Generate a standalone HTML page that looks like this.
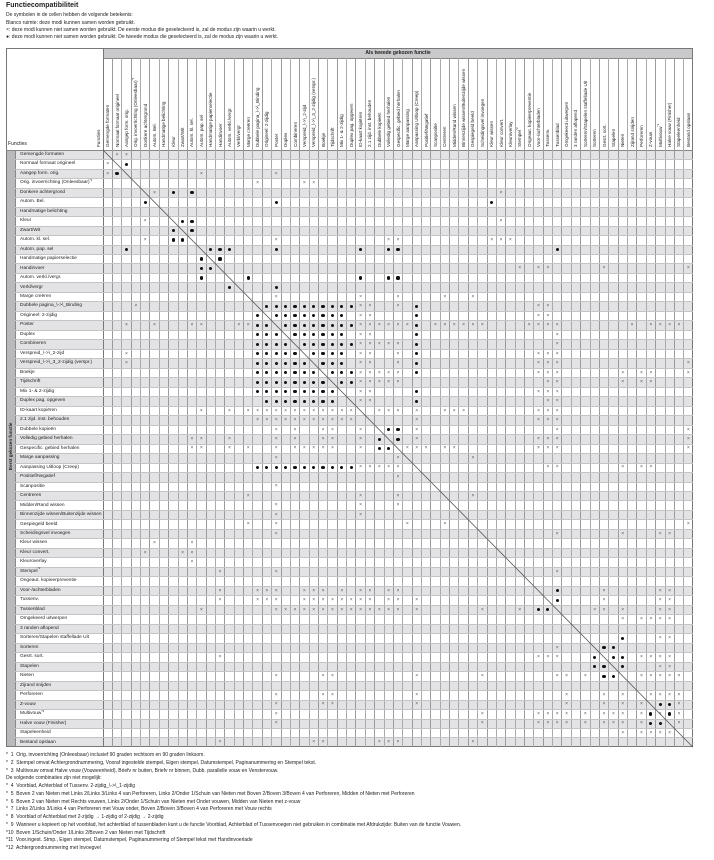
<!DOCTYPE html>
<html><head><meta charset="utf-8">
<style>
html,body{margin:0;padding:0;background:#fff;}
body{width:714px;height:860px;position:relative;overflow:hidden;font-family:"Liberation Sans",sans-serif;color:#222;}
.a{position:absolute;}
.t{position:absolute;font-size:5px;white-space:nowrap;line-height:6px;}
.vh{position:absolute;font-size:4.6px;white-space:nowrap;transform-origin:0 0;transform:rotate(-90deg);line-height:5px;}
.m{position:absolute;font-size:5px;line-height:6px;text-align:center;width:9px;}
sup{font-size:3px;line-height:0;vertical-align:top;position:relative;top:-0.5px;}
</style></head><body>
<div class="t" style="left:6px;top:2px;font-size:7px;font-weight:bold;line-height:8px;">Functiecompatibiliteit</div>
<div class="t" style="left:6px;top:12px;">De symbolen in de cellen hebben de volgende betekenis:</div>
<div class="t" style="left:6px;top:19.5px;">Blanco ruimte: deze modi kunnen samen worden gebruikt.</div>
<div class="t" style="left:6px;top:26.5px;">×: deze modi kunnen niet samen worden gebruikt. De eerste modus die geselecteerd is, zal de modus zijn waarin u werkt.</div>
<div class="t" style="left:6px;top:34px;">●: deze modi kunnen niet samen worden gebruikt. De tweede modus die geselecteerd is, zal de modus zijn waarin u werkt.</div>
<div id="tbl"></div>
<div id="fn"></div>
<script>
var T=document.getElementById('tbl');
var X0=103,CW=9.365,Y0=150,RH=9.48,NC=63,R=X0+NC*CW,B=Y0+NC*RH;
var names=["Gemengde formaten","Normaal formaat origineel","Aangep form. orig.","Orig. invoerrichting (Onleesbaar)*1","Donkere achtergrond","Autom. Bel.","Handmatige belichting","Kleur","Zwart/Wit","Autom. kl. sel.","Autom. pap. sel","Handmatige papierselectie","Handinvoer","Autom. verkl./vergr.","Verkl/vergr","Marge creëren","Dubbele pagina_\\->\\_Binding","Origineel: 2-zijdig","Poster","Duplex","Combineren","Verspreid_\\->\\_2-zijd","Verspreid_\\->\\_3_2-zijdig (verspr.)","Boekje","Tijdschrift","Mix 1- & 2-zijdig","Duplex pag. opgeven","ID-kaart kopiëren","2.1 zijd. inst. behouden","Dubbele kopieën","Volledig gebied herhalen","Gespecific. gebied herhalen","Marge aanpassing","Aanpassing Uitloop (Creep)","Positief/Negatief","Scanpositie","Centreren","Midden/Rand wissen","Binnenzijde wissen/Buitenzijde wissen","Gespiegeld beeld","Scheidingsvel invoegen","Kleur wissen","Kleur convert.","Kleuroverlay","Stempel*2","Ongeaut. kopieerpreventie","Voor-/achterbladen","Tussenv.","Tussenblad","Omgekeerd uitwerpen","3 randen aflopend","Sorteren/Stapelen staffellade Uit","Sorteren","Gesrt. sort.","Stapelen","Nieten","Zijrand snijden","Perforeren","Z-vouw","Multivouw*3","Halve vouw (Finisher)","Stapeleenheid","Bestand opslaan"];
function lab(s){var i=s.indexOf('*');return i<0?s:s.slice(0,i)+'<sup>'+s.slice(i)+'</sup>';}
var h='';
function box(l,t,w,hh,bg){h+='<div class="a" style="left:'+l+'px;top:'+t+'px;width:'+w+'px;height:'+hh+'px;background:'+bg+'"></div>';}
for(var r=0;r<NC;r++){var y=Y0+r*RH;box(15,y,R-15,RH,r%2==0?'#e3e3e5':'#fff');}
box(6,Y0,9,B-Y0,'#b9b9bb');
box(X0,48,R-X0,10,'#c9c9cb');
h+='<div class="t" style="left:'+X0+'px;width:'+(R-X0)+'px;text-align:center;top:50px;font-weight:bold;">Als tweede gekozen functie</div>';
h+='<div class="a" style="left:6px;top:48px;width:'+(R-6)+'px;height:'+(B-48)+'px;border:1px solid #777;box-sizing:border-box"></div>';
box(6,Y0-0.5,R-6,1,'#888');
box(X0,58,R-X0,0.8,'#888');
box(X0-0.5,48,1,B-48,'#777');
box(15,Y0,0.8,B-Y0,'#888');
for(var c=1;c<NC;c++){var x=X0+c*CW;box(x-0.4,58,0.8,B-58,c%2?'#9a9a9c':'#aaaaac');}
for(var r=1;r<NC;r++){var y=Y0+r*RH;box(15,y-0.3,R-15,0.6,'#c4c4c6');}
for(var c=0;c<NC;c++){var x=X0+c*CW+2.2;h+='<div class="vh" style="left:'+x+'px;top:147px;">'+lab(names[c])+'</div>';}
h+='<div class="vh" style="left:95.5px;top:147px;">Functies</div>';
h+='<div class="t" style="left:8px;top:141px;">Functies</div>';
h+='<div class="vh" style="left:7.5px;top:470px;font-weight:bold;">Eerst gekozen functie</div>';
for(var r=0;r<NC;r++){h+='<div class="t" style="left:20px;top:'+(Y0+r*RH+1.8)+'px;font-size:4.8px">'+lab(names[r])+'</div>';}
h+='<svg class="a" style="left:0;top:0" width="714" height="860"><line x1="'+X0+'" y1="'+Y0+'" x2="'+R+'" y2="'+B+'" stroke="#555" stroke-width="0.8"/></svg>';
var D={
0:"x1 x2",1:"x0 d2",2:"x0 d1 x10 x18",3:"x16 x21 x22",4:"x5 d7 d9 x42",5:"d4 d18 d41",7:"x4 d8 d9 x42",8:"d7 d9",9:"x4 d7 d8 x18 x30 x31 x41 x42 x43",
10:"d2 d11 d12 d13 d18 d27 d30 d31 d48",11:"d10 d12",12:"d10 d11 x44 x46 x47 x53 x62",13:"d10 d15 d27 d30 d31",14:"d13 d18",15:"x18 x27 x31 x36 x39",
16:"x3 d17 d18 d19 d20 d21 d22 d23 d24 d25 d26 x27 x28 x31 d33 x46 x47",
17:"d16 d18 d19 d20 d21 d22 d23 d24 d25 x27 x28 d33 x46 x47",
18:"x2 x5 x9 x10 x14 x15 d16 d17 d19 d20 d21 d22 d23 d24 d25 d26 x27 x28 x29 x30 x31 x32 d33 x35 x36 x37 x38 x39 x40 x45 x46 x47 x48 x56 x58 x59 x60 x61",
19:"d16 d17 d18 d20 d21 d22 d23 d24 d25 x27 x28 d33 x48",
20:"d16 d17 d18 d19 d21 d22 d23 d24 d25 d26 x27 x28 x29 x30 x31 d33 x48",
21:"x2 d16 d17 d18 d19 d20 d22 d23 d24 d25 x27 x28 x31 d33 x46 x47 x48",
22:"x2 d16 d17 d18 d19 d20 d21 d23 d24 d25 x27 x28 x31 d33 x46 x47 x48 x62",
23:"d16 d17 d18 d19 d20 d21 d22 d24 d25 d26 x27 x28 x29 x30 x31 d33 x46 x47 x48 x55 x57 x58 x62",
24:"d16 d17 d18 d19 d20 d21 d22 d23 d25 d26 x27 x28 x29 x30 x31 x47 x48 x55 x57 x58",
25:"d16 d17 d18 d19 d20 d21 d22 d23 d24 x27 x28 d33 x46 x47 x48",
26:"d17 d18 d19 d20 d21 d22 d23 d24 x27 x28 d33 x47 x48",
27:"x10 x13 x15 x16 x17 x18 x19 x20 x21 x22 x23 x24 x25 x26 x29 x30 x31 x33 x36 x37 x38 x46 x47 x48",
28:"x16 x17 x18 x19 x20 x21 x22 x23 x24 x25 x26 x33 x46 x47 x48",
29:"x18 x20 x23 x24 x27 d30 d31 x33 x48 x62",
30:"x9 x10 x13 x18 x20 x23 x24 x27 d29 d31 x33 x46 x47 x48 x62",
31:"x9 x10 x13 x15 x18 x20 x21 x22 x23 x24 x27 d29 d30 x32 x33 x34 x36 x37 x46 x47 x48 x62",
32:"x18 x31 x39",
33:"d16 d17 d18 d19 d20 d21 d22 d23 d24 d25 d26 x27 x28 x29 x30 x31 x47 x48 x55 x57 x58",
34:"x31",35:"x18",36:"x15 x27 x31 x39",37:"x18 x27 x31",38:"x18 x27",39:"x15 x18 x32 x36 x62",40:"x18 x48 x55 x59 x60",
41:"x5 x9",42:"x4 x8 x9",43:"x9",44:"x12 x18 x48",
46:"x12 x16 x17 x18 x21 x22 x23 x25 x27 x28 x30 x31 d48 x53 x59 x60",
47:"x12 x16 x17 x18 x21 x22 x23 x24 x25 x26 x27 x28 x30 x31 x33 d48 x53 x59 x60",
48:"x10 x18 x19 x20 x21 x22 x23 x24 x25 x26 x27 x28 x29 x30 x31 x33 x40 x44 d46 d47 x52 x53 x55 x59 x60",
49:"x55 x57 x58 x59 x60",51:"d55 x59 x60",52:"x48 d53 d54",
53:"x12 x46 x47 x48 d52 d54 d55 x57 x58 x59 x60",54:"d52 d53 d55 x59 x60",
55:"x18 x23 x24 x33 x40 x48 x49 x51 d53 d54 x57 x58 x59 x60 x61",
57:"x18 x23 x24 x33 x49 x53 x55 x58 x59 x60 x61",58:"x18 x23 x24 x33 x49 x53 x55 x57 d59 d60 x61",
59:"x18 x40 x46 x47 x48 x49 x51 x53 x54 x55 x57 d58 x59 d60 x61",60:"x18 x40 x46 x47 x48 x49 x51 x53 x54 x55 x57 d58 d59 x61",
61:"x55 x57 x58 x59 x60",62:"x12 x22 x23 x29 x30 x31 x39"};
for(var k in D){var a=D[k].split(' ');for(var i=0;i<a.length;i++){var t=a[i][0],c=+a[i].slice(1);
 var x=X0+c*CW,y=Y0+k*RH;
 if(t=='d')h+='<div class="a" style="left:'+(x+CW/2-1.6)+'px;top:'+(y+RH/2-1.6)+'px;width:3.2px;height:3.2px;border-radius:50%;background:#111"></div>';
 else h+='<div class="m" style="left:'+(x+0.2)+'px;top:'+(y+1.6)+'px;color:#555">×</div>';}}
T.innerHTML=h;
var fn=["*&nbsp; 1&nbsp; Orig. invoerrichting (Onleesbaar) inclusief 90 graden rechtsom en 90 graden linksom.",
"*&nbsp; 2&nbsp; Stempel omvat Achtergrondnummering, Vooraf ingestelde stempel, Eigen stempel, Datumstempel, Paginanummering en Stempel tekst.",
"*&nbsp; 3&nbsp; Multivouw omvat Halve vouw (Vouweenheid), Briefv nr buiten, Briefv nr binnen, Dubb. parallelle vouw en Venstervouw.",
"De volgende combinaties zijn niet mogelijk:",
"*&nbsp; 4&nbsp; Voorblad, Achterblad of Tussenv. 2-zijdig_\\->\\_1-zijdig",
"*&nbsp; 5&nbsp; Boven 2 van Nieten met Links 2/Links 3/Links 4 van Perforeren, Links 2/Onder 1/Schuin van Nieten met Boven 2/Boven 3/Boven 4 van Perforeren, Midden of Nieten met Perforeren",
"*&nbsp; 6&nbsp; Boven 2 van Nieten met Rechts vouwen, Links 2/Onder 1/Schuin van Nieten met Onder vouwen, Midden van Nieten met z-vouw",
"*&nbsp; 7&nbsp; Links 2/Links 3/Links 4 van Perforeren met Vouw onder, Boven 2/Boven 3/Boven 4 van Perforeren met Vouw rechts",
"*&nbsp; 8&nbsp; Voorblad of Achterblad met 2-zijdig → 1-zijdig of 2-zijdig → 2-zijdig",
"*&nbsp; 9&nbsp; Wanneer u kopieert op het voorblad, het achterblad of tussenbladen kunt u de functie Voorblad, Achterblad of Tussenvoegen niet gebruiken in combinatie met Afdrukzijde: Buiten van de functie Vouwen.",
"*10&nbsp; Boven 1/Schuin/Onder 1/Links 2/Boven 2 van Nieten met Tijdschrift",
"*11&nbsp; Voor.ingest. Stmp., Eigen stempel, Datumstempel, Paginanummering of Stempel tekst met Handinvoerlade",
"*12&nbsp; Achtergrondnummering met Invoegvel"];
var f='';for(var i=0;i<fn.length;i++)f+='<div class="t" style="left:6px;top:'+(752+i*7.75)+'px;">'+fn[i]+'</div>';
document.getElementById('fn').innerHTML=f;
</script>
</body></html>
